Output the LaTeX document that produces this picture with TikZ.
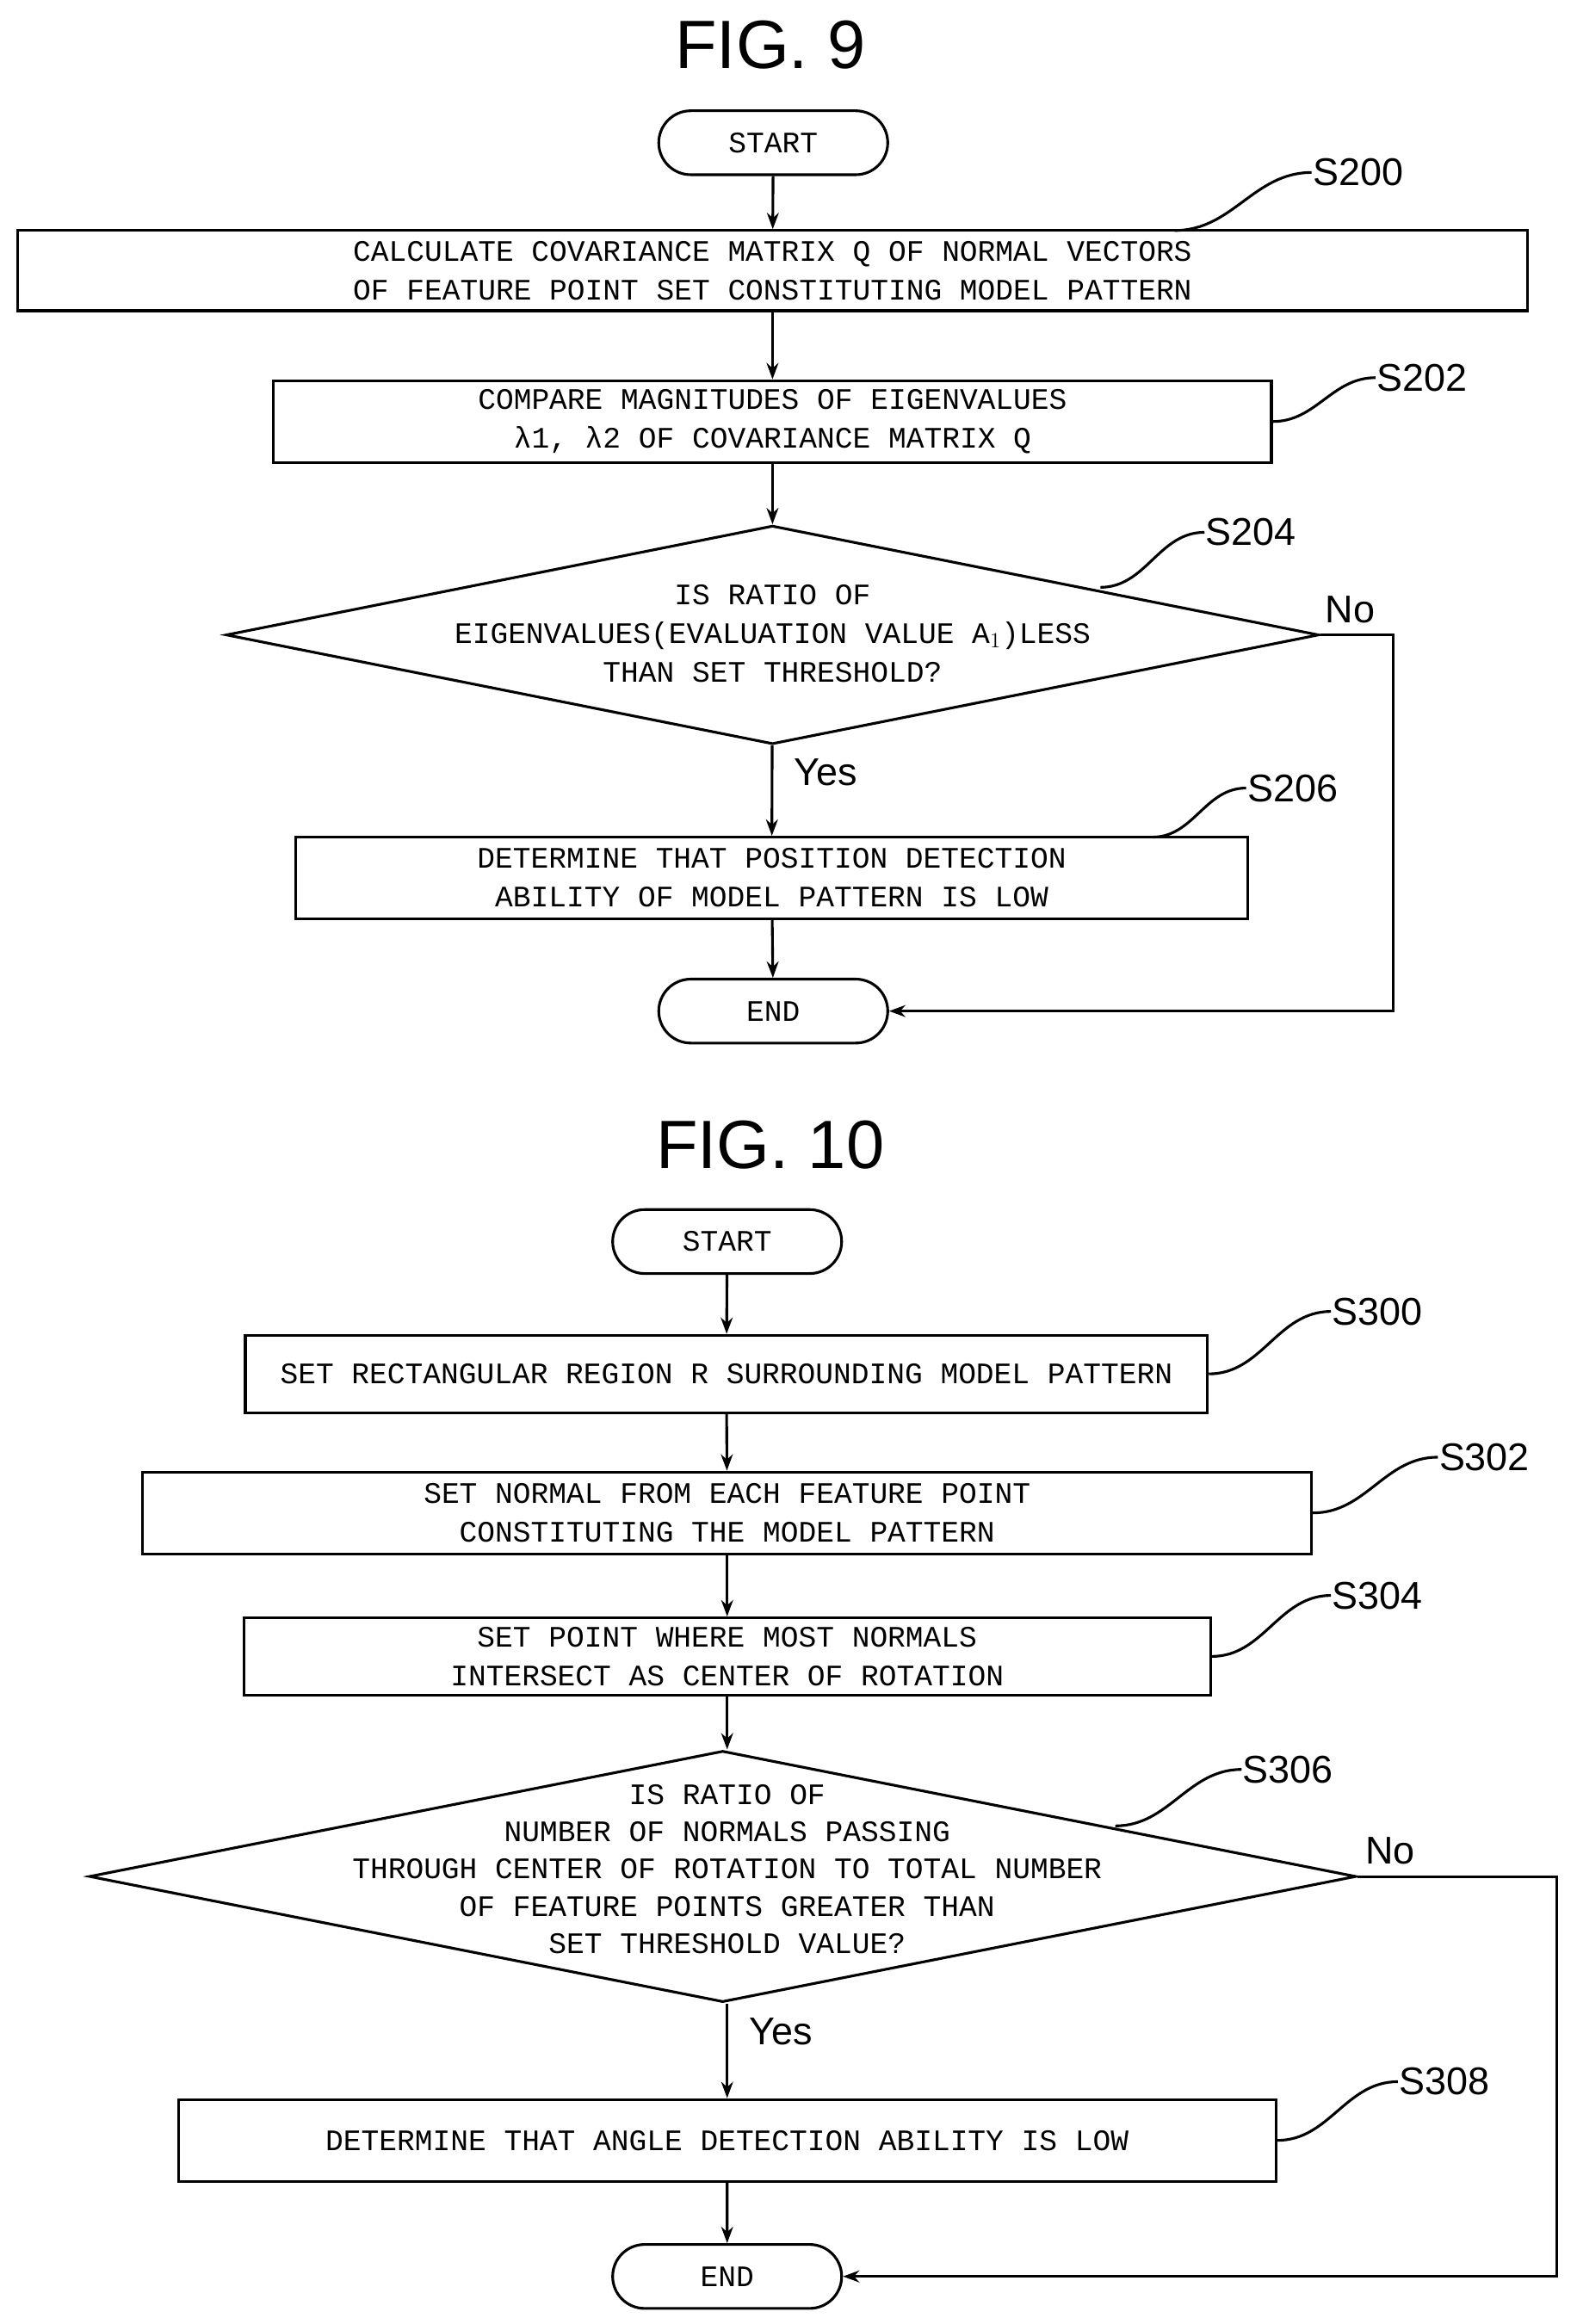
\documentclass[tikz,border=0pt]{standalone}
\usepackage{fontspec}
\setmainfont{Liberation Sans}
\newfontfamily\boxfont{Liberation Mono}
\usetikzlibrary{shapes.geometric,shapes.misc,arrows.meta}

\begin{document}
\begin{tikzpicture}[x=1pt,y=-1pt,>={Stealth[length=11pt,width=8pt]},line width=1.8pt,
    every node/.style={inner sep=0pt},
    proc/.style={draw,rectangle,font=\boxfont\fontsize{20}{26}\selectfont,align=center},
    term/.style={draw,rounded rectangle,minimum width=154pt,minimum height=43pt,font=\boxfont\fontsize{20}{24}\selectfont},
    tag/.style={anchor=west,font=\fontsize{26}{30}\selectfont},
    yn/.style={font=\fontsize{26}{30}\selectfont},
    title/.style={font=\fontsize{46}{50}\selectfont}]
  \useasboundingbox (0,0) rectangle (1060,1563);

  % FIG. 9
  \node[title] (fig9) at (518,30) {FIG. 9};
  \node[term] (start9) at (520,96) {START};
  \node[proc,minimum width=1015pt,minimum height=54pt] (s200) at (519.5,182) {CALCULATE COVARIANCE MATRIX Q OF NORMAL VECTORS\\OF FEATURE POINT SET CONSTITUTING MODEL PATTERN};
  \node[proc,minimum width=671pt,minimum height=55pt] (s202) at (519.5,283.5) {COMPARE MAGNITUDES OF EIGENVALUES\\λ1, λ2 OF COVARIANCE MATRIX Q};
  \node[draw,diamond,minimum width=735pt,minimum height=147pt,inner sep=0pt] (s204) at (519.5,427) {};
  \node[font=\boxfont\fontsize{20}{26}\selectfont,align=center] at (519.5,426) {IS RATIO OF\\EIGENVALUES(EVALUATION VALUE A$_1$)LESS\\THAN SET THRESHOLD?};
  \node[proc,minimum width=640pt,minimum height=55pt] (s206) at (519,590.5) {DETERMINE THAT POSITION DETECTION\\ABILITY OF MODEL PATTERN IS LOW};
  \node[term] (end9) at (520,680) {END};
  \coordinate (no9) at (937,427);

  \draw[->] (start9) -- (s200);
  \draw[->] (s200) -- (s202);
  \draw[->] (s202) -- (s204);
  \draw[->] (s204) -- node[yn,right=14pt,pos=0.3] {Yes} (s206);
  \draw[->] (s206) -- (end9);
  \draw[->] (s204.east) -- (no9) |- (end9.east);
  \node[yn] at (908,410) {No};

  \node[tag] (t200) at (882,116) {S200};
  \draw (790,155) to[out=0,in=180] (t200.west);
  \node[tag] (t202) at (925,254) {S202};
  \draw (s202.east) to[out=0,in=180] (t202.west);
  \node[tag] (t204) at (810,358) {S204};
  \draw (740,395) to[out=0,in=180] (t204.west);
  \node[tag] (t206) at (838,530) {S206};
  \draw (775,563) to[out=0,in=180] (t206.west);

  % FIG. 10
  \node[title] (fig10) at (518,770) {FIG. 10};
  \node[term] (start10) at (489,835) {START};
  \node[proc,minimum width=647pt,minimum height=52pt] (s300) at (488.5,924) {SET RECTANGULAR REGION R SURROUNDING MODEL PATTERN};
  \node[proc,minimum width=786pt,minimum height=55pt] (s302) at (489,1017.5) {SET NORMAL FROM EACH FEATURE POINT\\CONSTITUTING THE MODEL PATTERN};
  \node[proc,minimum width=650pt,minimum height=52pt] (s304) at (489,1114) {SET POINT WHERE MOST NORMALS\\INTERSECT AS CENTER OF ROTATION};
  \node[draw,diamond,minimum width=852pt,minimum height=169pt,inner sep=0pt] (s306) at (486,1262) {};
  \node[font=\boxfont\fontsize{20}{25}\selectfont,align=center] at (489,1257) {IS RATIO OF\\NUMBER OF NORMALS PASSING\\THROUGH CENTER OF ROTATION TO TOTAL NUMBER\\OF FEATURE POINTS GREATER THAN\\SET THRESHOLD VALUE?};
  \node[proc,minimum width=738pt,minimum height=55pt] (s308) at (489,1439.5) {DETERMINE THAT ANGLE DETECTION ABILITY IS LOW};
  \node[term] (end10) at (489,1531) {END};
  \coordinate (no10) at (1047,1262);

  \draw[->] (start10) -- (s300);
  \draw[->] (s300) -- (s302);
  \draw[->] (s302) -- (s304);
  \draw[->] (s304) -- (s306.north -| s304);
  \draw[->] (s306.south -| s308) -- node[yn,right=14pt,pos=0.3] {Yes} (s308);
  \draw[->] (s308) -- (end10);
  \draw[->] (s306.east) -- (no10) |- (end10.east);
  \node[yn] at (935,1245) {No};

  \node[tag] (t300) at (895,882) {S300};
  \draw (s300.east) to[out=0,in=180] (t300.west);
  \node[tag] (t302) at (967,980) {S302};
  \draw (s302.east) to[out=0,in=180] (t302.west);
  \node[tag] (t304) at (895,1073) {S304};
  \draw (s304.east) to[out=0,in=180] (t304.west);
  \node[tag] (t306) at (835,1190) {S306};
  \draw (750,1228) to[out=0,in=180] (t306.west);
  \node[tag] (t308) at (940,1400) {S308};
  \draw (s308.east) to[out=0,in=180] (t308.west);
\end{tikzpicture}
\end{document}
